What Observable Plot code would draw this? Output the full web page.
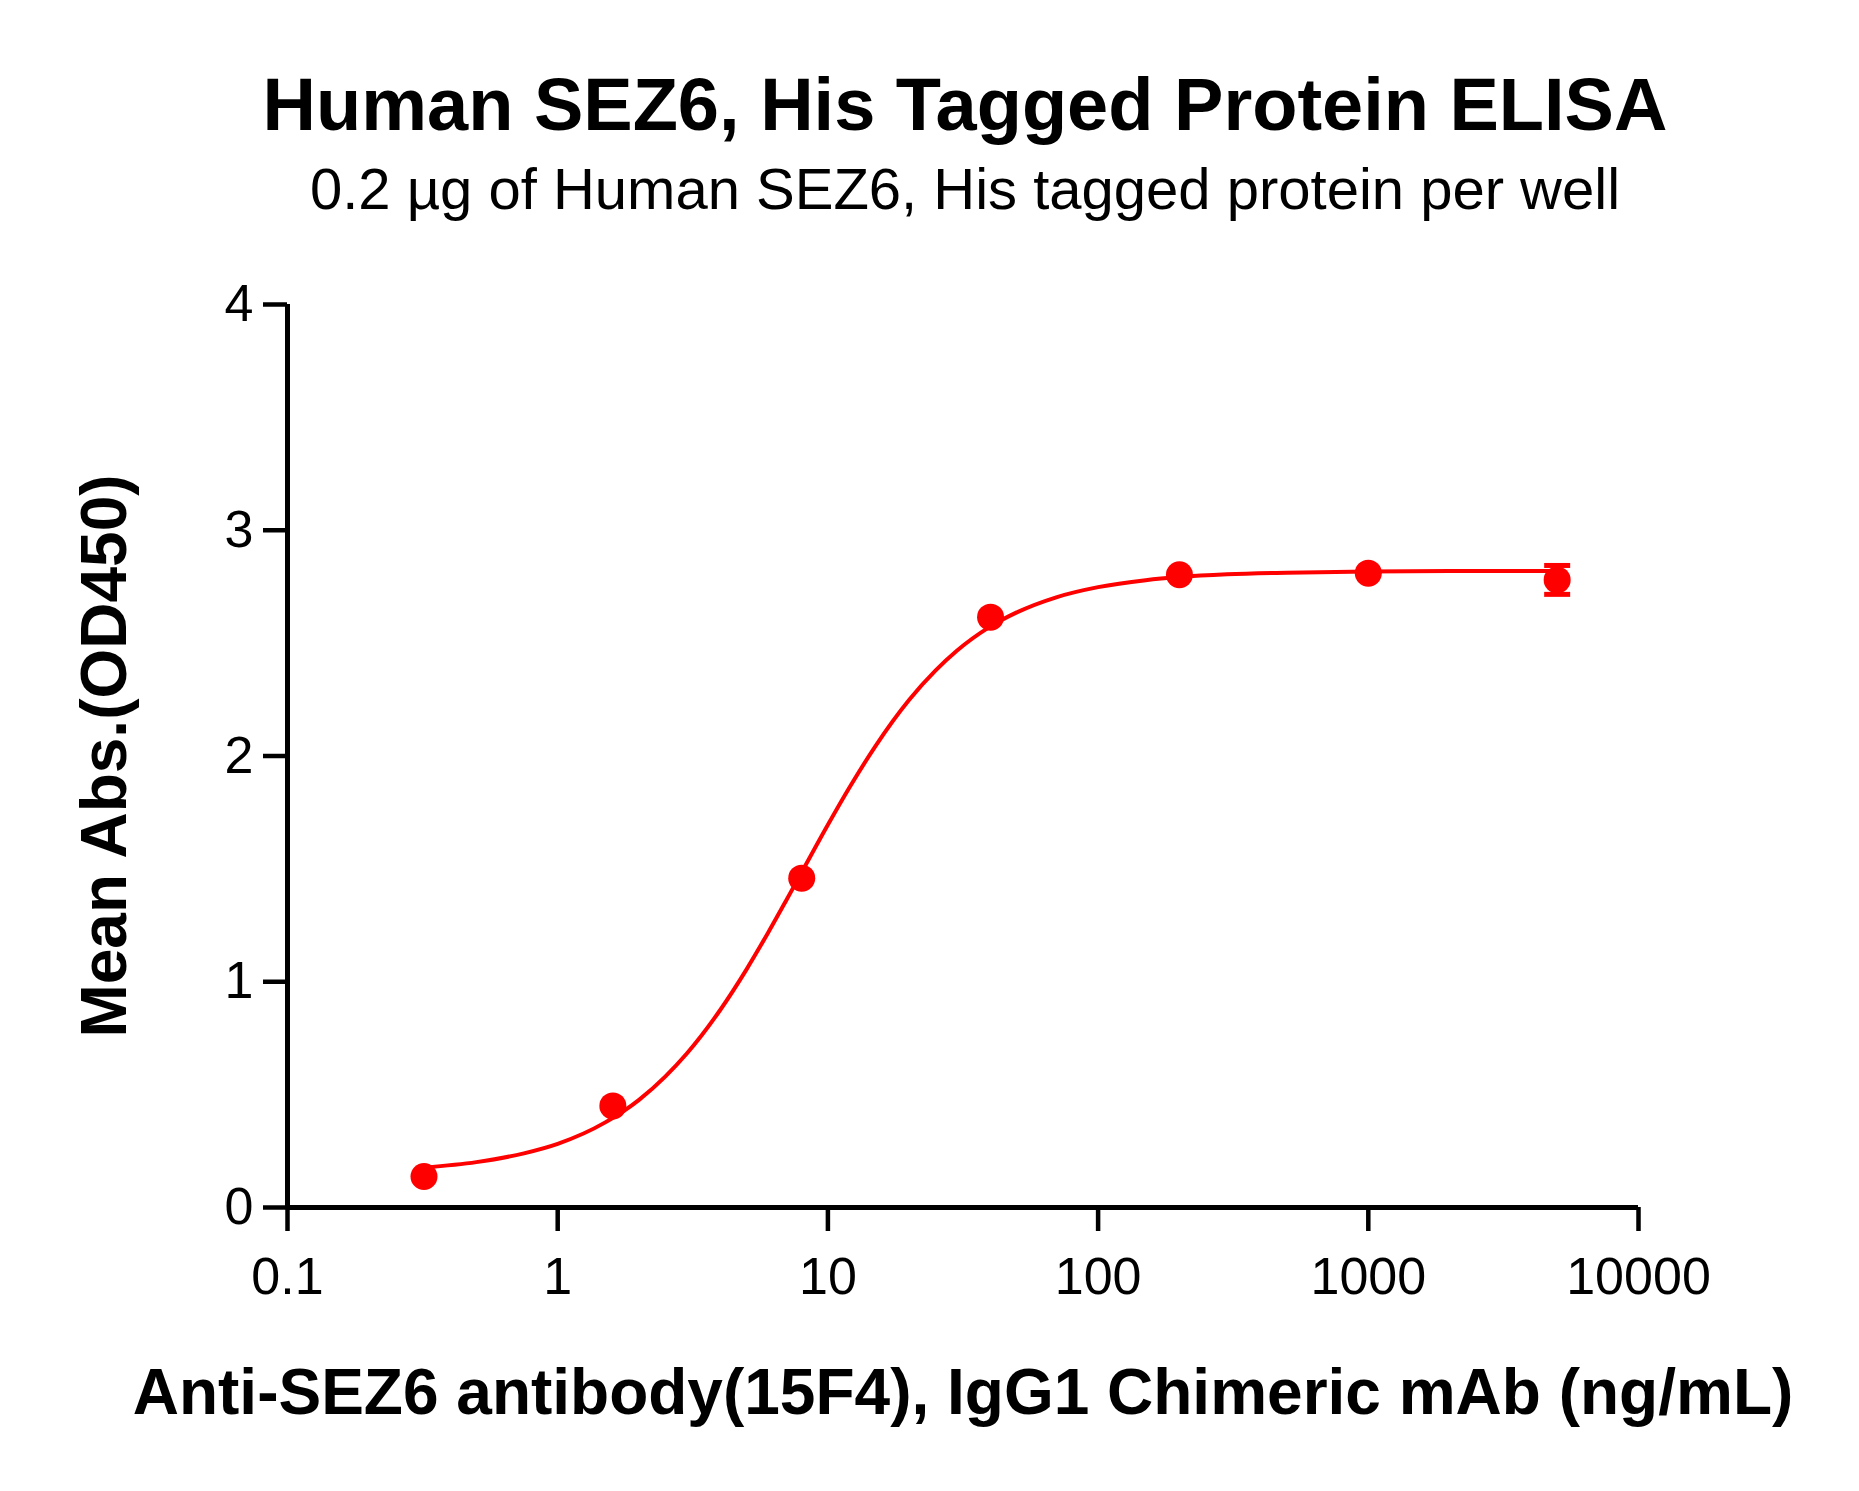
<!DOCTYPE html>
<html>
<head>
<meta charset="utf-8">
<script src="https://cdn.jsdelivr.net/npm/d3@7"></script>
<script src="https://cdn.jsdelivr.net/npm/@observablehq/plot@0.6"></script>
<style>
  html, body { margin: 0; padding: 0; background: #fff; }
  body { width: 1859px; height: 1491px; position: relative; font-family: "Liberation Sans", Arial, sans-serif; color: #000; overflow: hidden; }
  .hdr { position: absolute; left: 71px; width: 1788px; text-align: center; white-space: nowrap; line-height: 1; }
  #title { top: 68px; font-size: 74px; font-weight: bold; }
  #subtitle { top: 160px; font-size: 58px; }
  #chart { position: absolute; left: 0; top: 241px; }
</style>
</head>
<body>
<div id="title" class="hdr"></div>
<div id="subtitle" class="hdr"></div>
<div id="chart"></div>
<script>
// ---- data ----
const titleText = "Human SEZ6, His Tagged Protein ELISA";
const subtitleText = "0.2 \u00b5g of Human SEZ6, His tagged protein per well";
const xLabel = "Anti-SEZ6 antibody(15F4), IgG1 Chimeric mAb (ng/mL)";
const yLabel = "Mean Abs.(OD450)";

const conc = [0.32, 1.6, 8, 40, 200, 1000, 5000];
const od = [0.137, 0.450, 1.459, 2.615, 2.803, 2.81, 2.78];
const odErr = [0, 0, 0, 0, 0, 0, 0.064];

// fitted curve
const fitConc = [0.32, 0.5, 0.75, 1, 1.5, 2, 2.5, 3, 4, 5, 6, 7, 8, 10, 12, 15, 20, 25, 30, 40, 50, 70, 100, 150, 200, 300, 500, 1000, 2000, 5000];
const fitOD = [0.177, 0.201, 0.240, 0.282, 0.377, 0.477, 0.580, 0.681, 0.876, 1.055, 1.216, 1.359, 1.485, 1.695, 1.859, 2.044, 2.249, 2.378, 2.466, 2.574, 2.636, 2.703, 2.748, 2.779, 2.793, 2.805, 2.812, 2.817, 2.819, 2.82];

const xTicks = [0.1, 1, 10, 100, 1000, 10000];
const yTicks = [0, 1, 2, 3, 4];

// ---- build ----
document.getElementById("title").textContent = titleText;
document.getElementById("subtitle").textContent = subtitleText;

const points = conc.map((c, i) => ({c, v: od[i], e: odErr[i]}));
const errs = points.filter(d => d.e > 0);
const fit = fitConc.map((c, i) => ({c, v: fitOD[i]}));

const red = "#ff0000";
const capSymbol = {
  draw(context, size) {
    const w = Math.sqrt(size / Math.PI);
    context.moveTo(-w, 0);
    context.lineTo(w, 0);
  }
};

const chart = Plot.plot({
  width: 1859,
  height: 1250,
  marginLeft: 287,
  marginRight: 221,
  marginTop: 63,
  marginBottom: 284,
  style: {fontFamily: '"Liberation Sans", Arial, sans-serif', fontSize: "52px", color: "#000", background: "#fff", overflow: "visible"},
  x: {type: "log", domain: [xTicks[0], xTicks[xTicks.length - 1]]},
  y: {domain: [yTicks[0], yTicks[yTicks.length - 1]]},
  marks: [
    Plot.axisY({ticks: yTicks, tickSize: 24, tickPadding: 10, label: null, strokeWidth: 4.5, fontSize: 52, tickFormat: d => String(d)}),
    Plot.axisX({ticks: xTicks, tickSize: 24, tickPadding: 26, label: null, strokeWidth: 4.5, fontSize: 52, tickFormat: d => String(d)}),
    Plot.ruleX([xTicks[0]], {y1: yTicks[0], y2: yTicks[yTicks.length - 1], strokeWidth: 5}),
    Plot.ruleY([yTicks[0]], {x1: xTicks[0], x2: xTicks[xTicks.length - 1], strokeWidth: 5}),
    Plot.line(fit, {x: "c", y: "v", stroke: red, strokeWidth: 4, curve: "monotone-x"}),
    Plot.ruleX(errs, {x: "c", y1: d => d.v - d.e, y2: d => d.v + d.e, stroke: red, strokeWidth: 4.5}),
    Plot.dot(errs, {x: "c", y: d => d.v - d.e, r: 13, symbol: capSymbol, stroke: red, strokeWidth: 5, fill: "none"}),
    Plot.dot(errs, {x: "c", y: d => d.v + d.e, r: 13, symbol: capSymbol, stroke: red, strokeWidth: 5, fill: "none"}),
    Plot.dot(points, {x: "c", y: "v", r: 13.5, fill: red, stroke: "none"}),
    Plot.text([xLabel], {text: d => d, frameAnchor: "bottom", dy: 206, lineAnchor: "bottom", fontSize: 64, fontWeight: "bold", fill: "#000"}),
    Plot.text([yLabel], {text: d => d, frameAnchor: "left", dx: -182, rotate: -90, textAnchor: "middle", lineAnchor: "middle", fontSize: 64, fontWeight: "bold", fill: "#000"})
  ]
});
document.getElementById("chart").appendChild(chart);
</script>
</body>
</html>
